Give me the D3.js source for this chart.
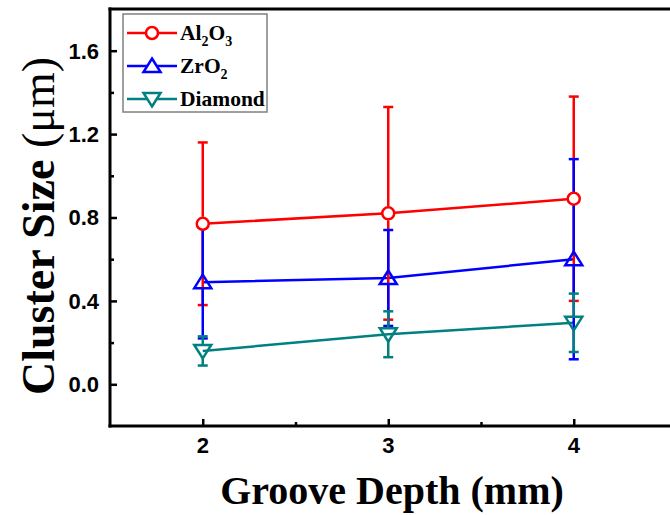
<!DOCTYPE html>
<html><head><meta charset="utf-8">
<script src="https://cdn.jsdelivr.net/npm/d3@7"></script>
<style>body{margin:0;background:#fff;}svg{display:block;}</style>
</head><body>
<svg id="chart" width="670" height="515"></svg>
<script>
const depths = [2, 3, 4];
const al2o3 = [0.77, 0.82, 0.89];
const al2o3Err = [0.39, 0.51, 0.49];
const zro2 = [0.49, 0.51, 0.60];
const zro2Err = [0.27, 0.23, 0.48];
const diamond = [0.16, 0.24, 0.295];
const diamondErr = [0.07, 0.11, 0.14];
const yTicks = [0.0, 0.4, 0.8, 1.2, 1.6];
const yMinor = [-0.2, 0.2, 0.6, 1.0, 1.4, 1.8];
const xTicks = [2, 3, 4];
const xMinor = [2.5, 3.5];

const series = [
  {name: "Al2O3", vals: al2o3, err: al2o3Err, color: "#ff0000", marker: "circle"},
  {name: "ZrO2", vals: zro2, err: zro2Err, color: "#0000ff", marker: "up"},
  {name: "Diamond", vals: diamond, err: diamondErr, color: "#008080", marker: "down"}
];

const svg = d3.select("#chart");
const L = 110, T = 9, B = 426;
const x = d3.scaleLinear().domain([1.5, 4.5]).range([L, L + 3 * 185.5]);
const y = d3.scaleLinear().domain([-0.2, 1.8]).range([B, T]);

// frame
const frame = svg.append("g").attr("stroke", "#000").attr("stroke-width", 3).attr("fill", "none");
frame.append("line").attr("x1", L).attr("x2", L).attr("y1", T).attr("y2", B).attr("stroke-linecap","square");
frame.append("line").attr("x1", L).attr("x2", 680).attr("y1", T).attr("y2", T).attr("stroke-linecap","square");
frame.append("line").attr("x1", L).attr("x2", 680).attr("y1", B).attr("y2", B).attr("stroke-linecap","square");

// y axis ticks (inward)
const yAxis = d3.axisRight(y).tickValues(yTicks).tickSize(7).tickFormat("");
const gy = svg.append("g").attr("transform", `translate(${L},0)`).call(yAxis);
gy.select(".domain").remove();
gy.selectAll("line").attr("stroke-width", 2.5);
const yMinorAxis = d3.axisRight(y).tickValues(yMinor.filter(v => y(v) > T + 2 && y(v) < B - 2)).tickSize(4).tickFormat("");
const gym = svg.append("g").attr("transform", `translate(${L},0)`).call(yMinorAxis);
gym.select(".domain").remove();
gym.selectAll("line").attr("stroke-width", 2.5);
svg.append("g").selectAll("text").data(yTicks).join("text")
  .attr("x", L - 11).attr("y", d => y(d)).attr("dy", "0.36em")
  .attr("text-anchor", "end")
  .style("font-family", "'Liberation Sans', Arial, sans-serif")
  .style("font-weight", "bold").style("font-size", "22px")
  .text(d => d.toFixed(1));

// x axis ticks (inward)
const xAxis = d3.axisTop(x).tickValues(xTicks).tickSize(7).tickFormat("");
const gx = svg.append("g").attr("transform", `translate(0,${B})`).call(xAxis);
gx.select(".domain").remove();
gx.selectAll("line").attr("stroke-width", 2.5);
const xMinorAxis = d3.axisTop(x).tickValues(xMinor).tickSize(4).tickFormat("");
const gxm = svg.append("g").attr("transform", `translate(0,${B})`).call(xMinorAxis);
gxm.select(".domain").remove();
gxm.selectAll("line").attr("stroke-width", 2.5);
svg.append("g").selectAll("text").data(xTicks).join("text")
  .attr("x", d => x(d)).attr("y", 453)
  .attr("text-anchor", "middle")
  .style("font-family", "'Liberation Sans', Arial, sans-serif")
  .style("font-weight", "bold").style("font-size", "22px")
  .text(d => d);

// axis titles
svg.append("text").attr("x", 392).attr("y", 504).attr("text-anchor", "middle")
  .style("font-family", "'Liberation Serif', 'Times New Roman', serif")
  .style("font-weight", "bold").style("font-size", "40px")
  .text("Groove Depth (mm)");
const yt = svg.append("text").attr("transform", "translate(54,226) rotate(-90)").attr("text-anchor", "middle")
  .style("font-family", "'Liberation Serif', 'Times New Roman', serif")
  .style("font-size", "46px");
yt.append("tspan").style("font-weight", "bold").text("Cluster Size ");
yt.append("tspan").text("(μm)");

function markerPath(type) {
  if (type === "up") return "M0,-7.5L8.5,6L-8.5,6Z";
  if (type === "down") return "M0,7.5L8.5,-6L-8.5,-6Z";
  return null;
}

const plot = svg.append("g");
const line = d3.line().x((d, i) => x(depths[i])).y(d => y(d));
series.forEach(s => {
  plot.append("path").attr("d", line(s.vals)).attr("fill", "none")
    .attr("stroke", s.color).attr("stroke-width", 2.5);
});
series.forEach(s => {
  const g = plot.append("g").attr("stroke", s.color).attr("stroke-width", 2.5);
  const gap = 7;
  s.vals.forEach((v, i) => {
    const cx = x(depths[i]);
    const yt = y(v + s.err[i]), yb = y(v - s.err[i]), yc = y(v);
    g.append("line").attr("x1", cx).attr("x2", cx).attr("y1", yc - gap).attr("y2", yt);
    g.append("line").attr("x1", cx).attr("x2", cx).attr("y1", yc + gap).attr("y2", yb);
    g.append("line").attr("x1", cx - 5).attr("x2", cx + 5).attr("y1", yt).attr("y2", yt);
    g.append("line").attr("x1", cx - 5).attr("x2", cx + 5).attr("y1", yb).attr("y2", yb);
  });
});
series.forEach(s => {
  const g = plot.append("g").attr("stroke", s.color).attr("stroke-width", 2.5).attr("fill", "none");
  s.vals.forEach((v, i) => {
    const cx = x(depths[i]), cy = y(v);
    if (s.marker === "circle") g.append("circle").attr("cx", cx).attr("cy", cy).attr("r", 6).attr("fill", "#fff");
    else g.append("path").attr("transform", `translate(${cx},${cy})`).attr("d", markerPath(s.marker));
  });
});

// legend
const lg = svg.append("g");
lg.append("rect").attr("x", 123).attr("y", 14).attr("width", 144).attr("height", 98)
  .attr("fill", "#fff").attr("stroke", "#808080").attr("stroke-width", 1.5);
const rows = [33, 66, 99];
series.forEach((s, i) => {
  const ry = rows[i];
  lg.append("line").attr("x1", 127).attr("x2", 177).attr("y1", ry).attr("y2", ry)
    .attr("stroke", s.color).attr("stroke-width", 2.5);
  if (s.marker === "circle") lg.append("circle").attr("cx", 152).attr("cy", ry).attr("r", 6)
    .attr("fill", "#fff").attr("stroke", s.color).attr("stroke-width", 2.5);
  else lg.append("path").attr("transform", `translate(152,${ry})`).attr("d", markerPath(s.marker))
    .attr("fill", "#fff").attr("stroke", s.color).attr("stroke-width", 2.5);
  const t = lg.append("text").attr("x", 180).attr("y", ry + 7)
    .style("font-family", "'Liberation Serif', 'Times New Roman', serif")
    .style("font-weight", "bold").style("font-size", "21.5px");
  const parts = s.name.match(/[A-Za-z]+|\d+/g);
  parts.forEach(p => {
    if (/^\d+$/.test(p)) t.append("tspan").attr("dy", 6).style("font-size", "14px").text(p);
    else {
      const ts = t.append("tspan").text(p);
      if (t.selectAll("tspan").size() > 1) ts.attr("dy", -6);
    }
  });
});
</script>
</body></html>
